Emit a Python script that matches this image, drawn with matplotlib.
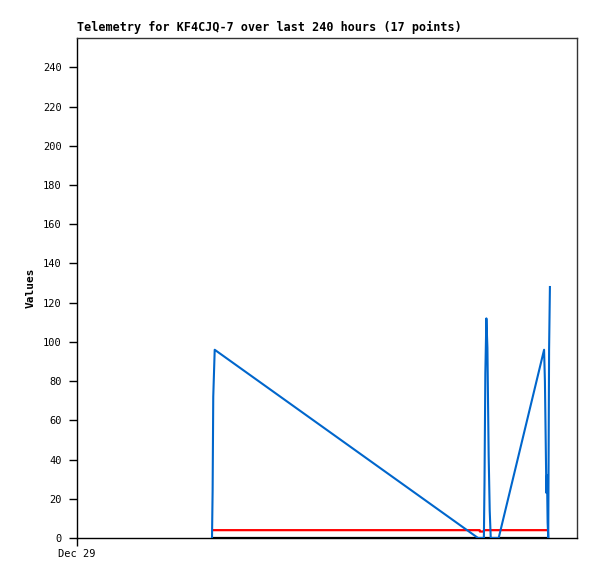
import matplotlib
matplotlib.use("Agg")
import matplotlib.pyplot as plt

# Data (hours since Dec 29 00:00)
blue_t = [64.8, 65.1, 65.4, 66.1, 192.5, 195.3, 195.6, 196.0, 196.5, 197.0, 197.3,
          197.6, 198.1, 198.6, 202.4, 224.2, 224.6, 225.0, 225.3, 225.6, 225.9,
          226.2, 226.6, 227.0]
blue_v = [0, 24, 72, 96, 0, 0, 28, 84, 112, 97, 69, 42, 14, 0, 0, 96, 80, 48, 23,
          32, 8, 0, 96, 128]
red_t = [64.8, 193.3, 193.4, 195.3, 195.4, 226.2]
red_v = [4, 4, 3.3, 3.3, 4, 4]
black_t = [64.8, 226.2]
black_v = [0, 0]
yticks = list(range(0, 241, 20))
xtick_labels = ["Dec 29"]
xtick_pos = [0]

mono = "DejaVu Sans Mono"
fig = plt.figure(figsize=(5.97, 5.79), dpi=100)
ax = fig.add_axes([77/597, 1-538/579, 500/597, 500/579])
ax.plot(black_t, black_v, color="black", lw=1.6, solid_capstyle="butt", zorder=2)
ax.plot(red_t, red_v, color="#ff0000", lw=1.6, solid_capstyle="butt", zorder=3)
ax.plot(blue_t, blue_v, color="#0066cc", lw=1.5, zorder=4)
ax.set_xlim(0, 240)
ax.set_ylim(0, 255)
ax.set_yticks(yticks)
ax.set_yticklabels([str(v) for v in yticks], fontfamily=mono, fontsize=7.5)
ax.set_xticks(xtick_pos)
ax.set_xticklabels(xtick_labels, fontfamily=mono, fontsize=7.5)
ax.tick_params(axis="y", direction="out", length=6, width=1, pad=5)
ax.tick_params(axis="x", direction="out", length=6, width=1, pad=2)
for s in ax.spines.values():
    s.set_linewidth(1)
ax.spines["left"].set_color("black")
ax.spines["bottom"].set_color("black")
ax.spines["top"].set_color("#333333")
ax.spines["right"].set_color("#333333")
ax.set_ylabel("Values", fontfamily=mono, fontsize=8, fontweight="bold", labelpad=5)
fig.text(77/597, 1-31/579, "Telemetry for KF4CJQ-7 over last 240 hours (17 points)",
         fontfamily=mono, fontsize=8.5, fontweight="bold", ha="left", va="baseline")
fig.savefig("out.png", dpi=100)
